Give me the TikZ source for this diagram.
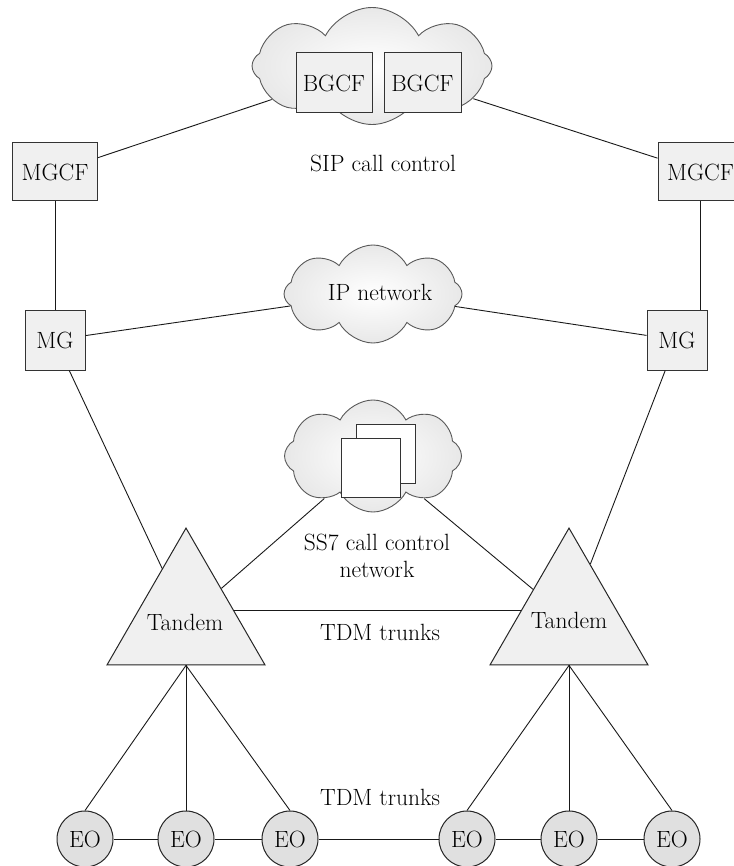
\documentclass[tikz,border=0pt]{standalone}
\usetikzlibrary{shapes.symbols,shapes.geometric,backgrounds,calc}
\newcommand{\dfont}{\fontsize{23.5}{27}\selectfont}
\begin{document}
\begin{tikzpicture}[x=1pt,y=-1pt,
  line/.style={draw=black!90, line width=0.9pt},
  box/.style={draw=black!80, fill=black!6, line width=1pt, inner sep=0pt, font=\dfont},
  sq/.style={draw=black!80, fill=white, line width=1pt, inner sep=0pt, minimum size=59pt},
  cloudy/.style={cloud, cloud puffs=8, cloud puff arc=125, cloud ignores aspect, draw=black!65, line width=0.9pt, shade, inner color=white, outer color=black!9, inner sep=0pt},
  tandem/.style={regular polygon, regular polygon sides=3, minimum size=182.4pt, inner sep=0pt, draw=black!85, fill=black!6, line width=1pt, font=\dfont},
  eo/.style={circle, minimum size=56pt, inner sep=0pt, draw=black!85, fill=black!12, line width=1pt, font=\dfont},
  txt/.style={font=\dfont, inner sep=0pt, align=center}]
\useasboundingbox (0,0) rectangle (733,866);

% clouds
\node[cloudy, minimum width=240pt, minimum height=117pt] (sipc) at (372,66) {};
\node[cloudy, minimum width=178pt, minimum height=98pt] (ipc) at (373,294) {};
\node[cloudy, minimum width=177pt, minimum height=112pt] (ss7c) at (373,456) {};

% boxes
\node[box, minimum width=76pt, minimum height=60pt] (bg1) at (334,83) {BGCF};
\node[box, minimum width=77pt, minimum height=60pt] (bg2) at (422.5,83) {BGCF};
\node[box, minimum width=85pt, minimum height=58pt] (mgcfL) at (55,172) {MGCF};
\node[box, minimum width=85pt, minimum height=58pt] (mgcfR) at (700.5,172) {MGCF};
\node[box, minimum width=60pt, minimum height=60pt] (mgL) at (55,340) {MG};
\node[box, minimum width=60pt, minimum height=60pt] (mgR) at (677,340) {MG};

% SS7 squares
\node[sq] (sqb) at (385.5,453.5) {};
\node[sq] (sqf) at (370.5,467.5) {};

% tandems
\node[tandem] (tanL) at (186,619.3) {};
\node[tandem] (tanR) at (569,619.3) {};
\node[txt] (tanLt) at (185,622) {Tandem};
\node[txt] (tanRt) at (569,620) {Tandem};

% EOs
\node[eo] (eo1) at (85,839) {EO};
\node[eo] (eo2) at (186,839) {EO};
\node[eo] (eo3) at (290,839) {EO};
\node[eo] (eo4) at (467,839) {EO};
\node[eo] (eo5) at (569,839) {EO};
\node[eo] (eo6) at (672,839) {EO};

% labels
\node[txt] (sip) at (383,163) {SIP call control};
\node[txt] (ipn) at (380,292) {IP network};
\node[txt] (ss7t) at (377,556) {SS7 call control\\network};
\node[txt] (tdm1) at (380,632) {TDM trunks};
\node[txt] (tdm2) at (380,797) {TDM trunks};

% connectors
\draw[line] (mgcfL) -- (sipc);
\draw[line] (sipc) -- (mgcfR);
\draw[line] (mgcfL) -- (mgL);
\draw[line] (mgcfR) -- (mgcfR |- mgR.north);
\draw[line] (mgL) -- (ipc);
\draw[line] (ipc) -- (mgR);
\draw[line] (mgL) -- (tanL);
\draw[line] (mgR) -- (tanR);
\draw[line] (ss7c) -- (tanL);
\draw[line] (ss7c) -- (tanR);
\begin{scope}[on background layer]
\draw[line] ([yshift=9pt]tanL.center) -- ([yshift=9pt]tanR.center);
\end{scope}
\draw[line] (tanL.side 2) -- (eo1.north);
\draw[line] (tanL.side 2) -- (eo2.north);
\draw[line] (tanL.side 2) -- (eo3.north);
\draw[line] (tanR.side 2) -- (eo4.north);
\draw[line] (tanR.side 2) -- (eo5.north);
\draw[line] (tanR.side 2) -- (eo6.north);
\draw[line] (eo1) -- (eo2);
\draw[line] (eo2) -- (eo3);
\draw[line] (eo3) -- (eo4);
\draw[line] (eo4) -- (eo5);
\draw[line] (eo5) -- (eo6);
\end{tikzpicture}
\end{document}
